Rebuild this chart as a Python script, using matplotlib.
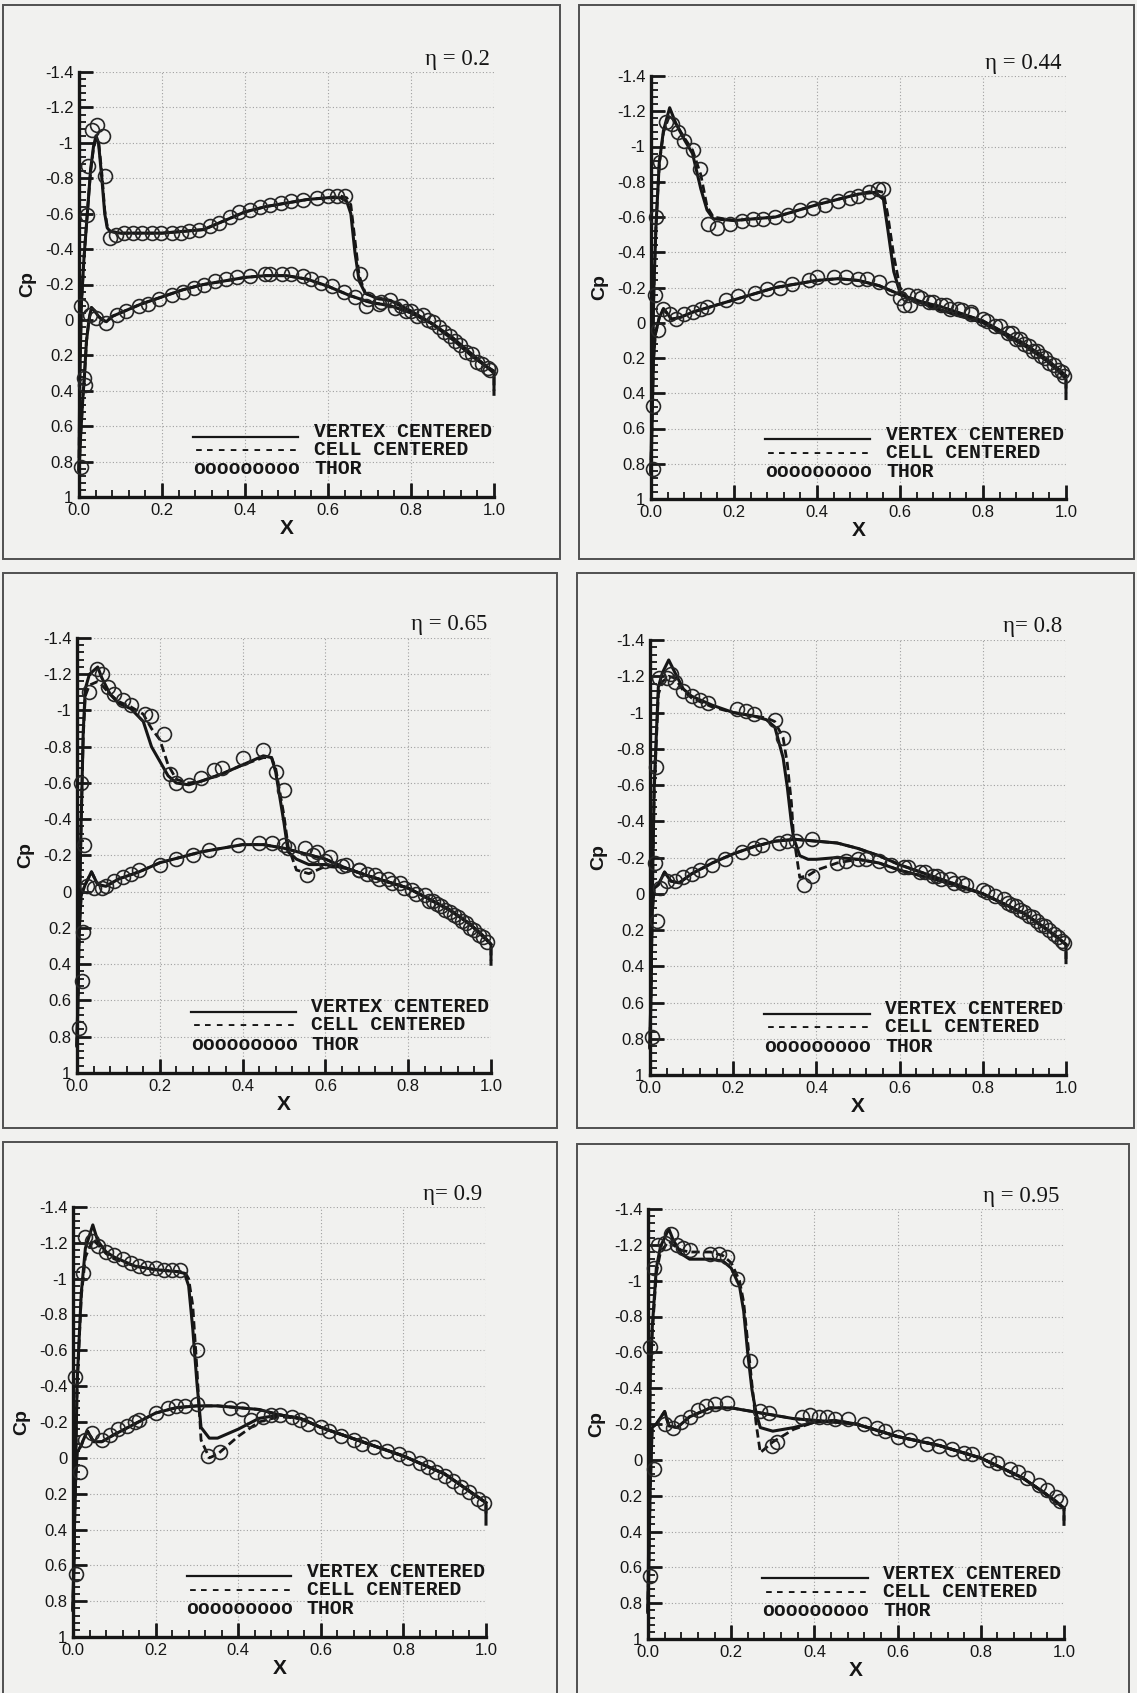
import matplotlib
matplotlib.use("Agg")
import matplotlib.pyplot as plt
from matplotlib.ticker import MultipleLocator, FixedLocator
from matplotlib.patches import Rectangle

W, H = 1137, 1693

eta_labels = ["η = 0.2", "η = 0.44", "η = 0.65", "η= 0.8", "η= 0.9", "η = 0.95"]
legend_labels = ["VERTEX CENTERED", "CELL CENTERED", "THOR"]
y_ticks = [-1.4, -1.2, -1.0, -0.8, -0.6, -0.4, -0.2, 0.0, 0.2, 0.4, 0.6, 0.8, 1.0]
y_tick_labels = ["-1.4", "-1.2", "-1", "-0.8", "-0.6", "-0.4", "-0.2", "0",
                 "0.2", "0.4", "0.6", "0.8", "1"]
x_ticks = [0.0, 0.2, 0.4, 0.6, 0.8, 1.0]
x_tick_labels = ["0.0", "0.2", "0.4", "0.6", "0.8", "1.0"]

# ---- eta = 0.2 ----
x_up_1 = [0.0, 0.002, 0.006, 0.012, 0.02, 0.028, 0.035, 0.041, 0.047, 0.055, 0.062, 0.068,
          0.075, 0.1, 0.15, 0.2, 0.25, 0.3, 0.35, 0.4, 0.45, 0.5, 0.55, 0.6, 0.63, 0.645,
          0.655, 0.665, 0.675, 0.69, 0.72, 0.75, 0.8, 0.85, 0.9, 0.95, 0.98, 1.0, 1.0]
cp_vc_up_1 = [0.85, 0.3, -0.1, -0.35, -0.6, -0.85, -0.98, -1.04, -1.0, -0.8, -0.6, -0.52,
              -0.5, -0.49, -0.49, -0.49, -0.5, -0.51, -0.56, -0.61, -0.64, -0.66, -0.68, -0.69,
              -0.69, -0.67, -0.6, -0.38, -0.22, -0.15, -0.12, -0.11, -0.05, 0.02, 0.11, 0.21,
              0.26, 0.29, 0.42]
cp_cc_up_1 = [0.85, 0.3, -0.1, -0.35, -0.6, -0.84, -0.97, -1.02, -1.01, -0.83, -0.62, -0.53,
              -0.5, -0.49, -0.49, -0.49, -0.5, -0.51, -0.56, -0.61, -0.64, -0.66, -0.68, -0.69,
              -0.7, -0.69, -0.65, -0.45, -0.25, -0.15, -0.12, -0.11, -0.05, 0.02, 0.11, 0.21,
              0.26, 0.29, 0.4]
x_lo_1 = [0.0, 0.004, 0.009, 0.013, 0.018, 0.024, 0.03, 0.038, 0.047, 0.056, 0.066, 0.08,
          0.1, 0.15, 0.2, 0.25, 0.3, 0.35, 0.4, 0.45, 0.5, 0.55, 0.6, 0.65, 0.7, 0.75, 0.8,
          0.85, 0.9, 0.95, 0.98, 1.0]
cp_lo_1 = [0.85, 0.65, 0.45, 0.32, 0.12, 0.0, -0.07, -0.05, -0.02, 0.0, 0.01, -0.02,
           -0.04, -0.09, -0.13, -0.17, -0.2, -0.22, -0.24, -0.25, -0.25, -0.23, -0.19, -0.14,
           -0.1, -0.08, -0.04, 0.02, 0.1, 0.2, 0.26, 0.3]
thor_up_x_1 = [0.006, 0.019, 0.022, 0.031, 0.044, 0.057, 0.063, 0.074, 0.088, 0.109, 0.131,
               0.153, 0.175, 0.197, 0.223, 0.245, 0.265, 0.289, 0.315, 0.337, 0.363, 0.385,
               0.412, 0.435, 0.46, 0.486, 0.512, 0.539, 0.574, 0.6, 0.622, 0.642, 0.677,
               0.692, 0.722, 0.749, 0.775, 0.801, 0.828, 0.854, 0.88, 0.906, 0.933, 0.959,
               0.985]
thor_up_cp_1 = [0.83, -0.59, -0.87, -1.07, -1.1, -1.04, -0.81, -0.46, -0.48, -0.49, -0.49,
                -0.49, -0.49, -0.49, -0.49, -0.49, -0.5, -0.51, -0.53, -0.55, -0.58, -0.61,
                -0.62, -0.64, -0.65, -0.66, -0.67, -0.68, -0.69, -0.7, -0.7, -0.7, -0.26,
                -0.08, -0.09, -0.11, -0.08, -0.05, -0.03, 0.01, 0.07, 0.12, 0.18, 0.24, 0.27]
thor_lo_x_1 = [0.006, 0.011, 0.015, 0.026, 0.041, 0.066, 0.092, 0.114, 0.144, 0.166, 0.193,
               0.223, 0.25, 0.276, 0.302, 0.328, 0.355, 0.381, 0.412, 0.447, 0.46, 0.49,
               0.512, 0.539, 0.56, 0.582, 0.609, 0.639, 0.666, 0.696, 0.727, 0.762, 0.788,
               0.814, 0.84, 0.867, 0.893, 0.919, 0.946, 0.972, 0.99]
thor_lo_cp_1 = [-0.08, 0.33, 0.37, -0.03, -0.01, 0.02, -0.03, -0.05, -0.08, -0.09, -0.12,
                -0.14, -0.16, -0.18, -0.2, -0.22, -0.23, -0.24, -0.25, -0.26, -0.26, -0.26,
                -0.26, -0.25, -0.23, -0.21, -0.19, -0.16, -0.13, -0.12, -0.1, -0.07, -0.05,
                -0.02, 0.0, 0.04, 0.09, 0.14, 0.19, 0.25, 0.28]

# ---- eta = 0.44 ----
x_up_2 = [0.0, 0.003, 0.007, 0.012, 0.02, 0.03, 0.045, 0.06, 0.08, 0.1, 0.12, 0.135, 0.15,
          0.2, 0.3, 0.4, 0.5, 0.54, 0.56, 0.57, 0.585, 0.6, 0.62, 0.7, 0.8, 0.9, 0.95, 0.98,
          1.0, 1.0]
cp_vc_up_2 = [0.85, 0.3, -0.2, -0.55, -0.91, -1.09, -1.22, -1.13, -1.04, -0.96, -0.76,
              -0.64, -0.59, -0.58, -0.6, -0.67, -0.73, -0.74, -0.7, -0.54, -0.29, -0.17,
              -0.14, -0.07, 0.0, 0.13, 0.21, 0.27, 0.32, 0.43]
cp_cc_up_2 = [0.85, 0.3, -0.2, -0.55, -0.9, -1.08, -1.18, -1.13, -1.05, -0.98, -0.84,
              -0.66, -0.6, -0.58, -0.6, -0.67, -0.73, -0.75, -0.74, -0.62, -0.38, -0.2,
              -0.14, -0.07, 0.0, 0.13, 0.21, 0.27, 0.31, 0.4]
x_lo_2 = [0.0, 0.003, 0.006, 0.01, 0.02, 0.03, 0.05, 0.07, 0.1, 0.2, 0.3, 0.4, 0.45, 0.5,
          0.55, 0.6, 0.65, 0.7, 0.8, 0.9, 0.95, 1.0]
cp_lo_2 = [0.85, 0.5, 0.21, 0.07, -0.03, -0.08, -0.02, -0.03, -0.06, -0.13, -0.2, -0.24,
           -0.25, -0.24, -0.21, -0.16, -0.12, -0.09, -0.01, 0.12, 0.2, 0.3]
thor_up_x_2 = [0.005, 0.012, 0.022, 0.035, 0.05, 0.065, 0.08, 0.1, 0.118, 0.138, 0.16, 0.19,
               0.22, 0.245, 0.27, 0.3, 0.33, 0.36, 0.39, 0.42, 0.45, 0.48, 0.5, 0.525, 0.548,
               0.56, 0.6, 0.61, 0.625, 0.64, 0.67, 0.7, 0.72, 0.75, 0.77, 0.8, 0.83, 0.86,
               0.88, 0.9, 0.92, 0.94, 0.96, 0.98, 0.995]
thor_up_cp_2 = [0.83, -0.6, -0.91, -1.14, -1.13, -1.08, -1.03, -0.98, -0.87, -0.56, -0.54,
                -0.56, -0.58, -0.59, -0.59, -0.6, -0.61, -0.64, -0.65, -0.67, -0.69, -0.71,
                -0.72, -0.74, -0.76, -0.76, -0.14, -0.1, -0.1, -0.15, -0.12, -0.1, -0.08,
                -0.07, -0.05, -0.02, 0.02, 0.06, 0.09, 0.12, 0.16, 0.19, 0.23, 0.27, 0.3]
thor_lo_x_2 = [0.006, 0.01, 0.018, 0.03, 0.045, 0.06, 0.08, 0.1, 0.12, 0.135, 0.18, 0.21,
               0.25, 0.28, 0.31, 0.34, 0.38, 0.4, 0.44, 0.47, 0.5, 0.52, 0.55, 0.58, 0.62,
               0.65, 0.68, 0.71, 0.74, 0.77, 0.81, 0.84, 0.87, 0.89, 0.91, 0.93, 0.95, 0.97,
               0.99]
thor_lo_cp_2 = [0.47, -0.16, 0.04, -0.08, -0.05, -0.02, -0.05, -0.06, -0.08, -0.09, -0.13,
                -0.15, -0.17, -0.19, -0.2, -0.22, -0.24, -0.26, -0.26, -0.26, -0.25, -0.25,
                -0.23, -0.2, -0.16, -0.14, -0.12, -0.1, -0.08, -0.06, -0.01, 0.02, 0.06, 0.09,
                0.13, 0.16, 0.2, 0.24, 0.28]

# ---- eta = 0.65 ----
x_up_3 = [0.0, 0.005, 0.01, 0.015, 0.02, 0.03, 0.05, 0.06, 0.08, 0.1, 0.13, 0.16, 0.18, 0.2,
          0.22, 0.24, 0.27, 0.3, 0.35, 0.4, 0.45, 0.47, 0.48, 0.5, 0.51, 0.53, 0.56, 0.6,
          0.65, 0.7, 0.8, 0.9, 0.95, 0.98, 1.0, 1.0]
cp_vc_up_3 = [0.85, 0.2, -0.38, -0.88, -1.12, -1.2, -1.24, -1.18, -1.09, -1.04, -1.01,
              -0.94, -0.8, -0.72, -0.64, -0.6, -0.59, -0.61, -0.65, -0.7, -0.75, -0.74,
              -0.66, -0.38, -0.22, -0.18, -0.15, -0.15, -0.13, -0.09, -0.02, 0.1, 0.18, 0.24,
              0.29, 0.4]
cp_cc_up_3 = [0.85, 0.2, -0.38, -0.85, -1.08, -1.14, -1.16, -1.14, -1.09, -1.05, -1.02,
              -0.98, -0.9, -0.84, -0.7, -0.62, -0.6, -0.61, -0.65, -0.7, -0.74, -0.74, -0.68,
              -0.42, -0.25, -0.12, -0.1, -0.14, -0.13, -0.09, -0.02, 0.1, 0.18, 0.24, 0.29,
              0.38]
x_lo_3 = [0.0, 0.005, 0.01, 0.02, 0.035, 0.05, 0.07, 0.1, 0.15, 0.2, 0.3, 0.4, 0.45, 0.5,
          0.55, 0.6, 0.65, 0.7, 0.8, 0.9, 0.95, 1.0]
cp_lo_3 = [0.85, 0.23, 0.02, -0.04, -0.11, -0.04, -0.03, -0.07, -0.11, -0.16, -0.22, -0.26,
           -0.26, -0.24, -0.21, -0.18, -0.13, -0.09, -0.02, 0.1, 0.18, 0.29]
thor_up_x_3 = [0.004, 0.01, 0.016, 0.03, 0.048, 0.06, 0.075, 0.09, 0.11, 0.13, 0.165, 0.178,
               0.21, 0.225, 0.24, 0.27, 0.3, 0.33, 0.35, 0.4, 0.45, 0.48, 0.5, 0.51, 0.556,
               0.57, 0.6, 0.64, 0.68, 0.7, 0.73, 0.76, 0.79, 0.82, 0.85, 0.87, 0.89, 0.91,
               0.93, 0.95, 0.97, 0.99]
thor_up_cp_3 = [0.75, -0.6, -0.26, -1.1, -1.23, -1.2, -1.13, -1.09, -1.06, -1.03, -0.98,
                -0.97, -0.87, -0.65, -0.6, -0.59, -0.63, -0.67, -0.68, -0.74, -0.78, -0.66,
                -0.56, -0.24, -0.09, -0.2, -0.17, -0.14, -0.12, -0.1, -0.07, -0.05, -0.02,
                0.01, 0.05, 0.07, 0.1, 0.13, 0.16, 0.2, 0.24, 0.28]
thor_lo_x_3 = [0.012, 0.015, 0.025, 0.04, 0.06, 0.07, 0.09, 0.11, 0.13, 0.15, 0.2, 0.24,
               0.28, 0.32, 0.39, 0.44, 0.47, 0.5, 0.55, 0.58, 0.61, 0.65, 0.68, 0.72, 0.75,
               0.78, 0.81, 0.84, 0.86, 0.88, 0.9, 0.92, 0.94, 0.96, 0.98]
thor_lo_cp_3 = [0.49, 0.22, -0.03, -0.02, -0.02, -0.03, -0.06, -0.08, -0.1, -0.12, -0.15,
                -0.18, -0.2, -0.23, -0.26, -0.27, -0.27, -0.26, -0.24, -0.22, -0.19, -0.15,
                -0.12, -0.09, -0.07, -0.05, -0.01, 0.02, 0.05, 0.08, 0.11, 0.14, 0.17, 0.21,
                0.25]

# ---- eta = 0.8 ----
x_up_4 = [0.0, 0.005, 0.01, 0.02, 0.03, 0.045, 0.06, 0.08, 0.1, 0.15, 0.2, 0.25, 0.28, 0.3,
          0.32, 0.33, 0.34, 0.345, 0.36, 0.38, 0.4, 0.45, 0.5, 0.55, 0.6, 0.7, 0.8, 0.9, 0.95,
          0.98, 1.0, 1.0]
cp_vc_up_4 = [0.85, 0.1, -0.59, -1.14, -1.22, -1.29, -1.22, -1.13, -1.09, -1.04, -1.0,
              -0.98, -0.96, -0.92, -0.75, -0.59, -0.39, -0.31, -0.21, -0.19, -0.19, -0.2,
              -0.19, -0.17, -0.13, -0.07, 0.0, 0.11, 0.19, 0.24, 0.28, 0.38]
cp_cc_up_4 = [0.85, 0.1, -0.55, -1.1, -1.17, -1.2, -1.19, -1.12, -1.08, -1.03, -1.0, -0.98,
              -0.97, -0.95, -0.86, -0.72, -0.5, -0.32, -0.09, -0.1, -0.13, -0.17, -0.19,
              -0.17, -0.13, -0.07, 0.0, 0.11, 0.19, 0.24, 0.28, 0.36]
x_lo_4 = [0.0, 0.005, 0.01, 0.02, 0.035, 0.05, 0.07, 0.1, 0.15, 0.2, 0.25, 0.3, 0.35, 0.4,
          0.45, 0.5, 0.55, 0.6, 0.65, 0.7, 0.8, 0.9, 0.95, 1.0]
cp_lo_4 = [0.85, 0.11, -0.03, -0.05, -0.12, -0.07, -0.06, -0.11, -0.17, -0.22, -0.26, -0.29,
           -0.3, -0.29, -0.28, -0.25, -0.21, -0.16, -0.12, -0.08, 0.0, 0.11, 0.19, 0.28]
thor_up_x_4 = [0.004, 0.011, 0.015, 0.022, 0.04, 0.05, 0.06, 0.08, 0.1, 0.12, 0.14, 0.21,
               0.23, 0.25, 0.3, 0.32, 0.37, 0.39, 0.45, 0.47, 0.5, 0.52, 0.55, 0.58, 0.61,
               0.65, 0.68, 0.7, 0.73, 0.76, 0.8, 0.83, 0.86, 0.88, 0.9, 0.92, 0.94, 0.96,
               0.98, 0.995]
thor_up_cp_4 = [0.79, -0.17, -0.7, -1.19, -1.19, -1.21, -1.17, -1.12, -1.09, -1.07, -1.05,
                -1.02, -1.01, -0.99, -0.96, -0.86, -0.05, -0.1, -0.17, -0.18, -0.19, -0.19,
                -0.18, -0.16, -0.15, -0.12, -0.1, -0.08, -0.06, -0.05, -0.02, 0.01, 0.05,
                0.07, 0.1, 0.13, 0.17, 0.2, 0.24, 0.27]
thor_lo_x_4 = [0.016, 0.025, 0.04, 0.06, 0.08, 0.1, 0.12, 0.15, 0.18, 0.22, 0.25, 0.27,
               0.31, 0.33, 0.35, 0.39, 0.62, 0.66, 0.69, 0.72, 0.75, 0.81, 0.85, 0.87, 0.89,
               0.91, 0.93, 0.95, 0.97, 0.99]
thor_lo_cp_4 = [0.15, -0.03, -0.07, -0.07, -0.09, -0.11, -0.13, -0.16, -0.19, -0.23, -0.25,
                -0.27, -0.28, -0.29, -0.29, -0.3, -0.15, -0.12, -0.1, -0.08, -0.06, -0.01,
                0.03, 0.06, 0.09, 0.12, 0.15, 0.18, 0.22, 0.26]

# ---- eta = 0.9 ----
x_up_5 = [0.0, 0.005, 0.01, 0.02, 0.03, 0.048, 0.06, 0.08, 0.1, 0.15, 0.2, 0.25, 0.27, 0.28,
          0.29, 0.3, 0.31, 0.33, 0.35, 0.4, 0.45, 0.5, 0.55, 0.6, 0.7, 0.8, 0.9, 0.95, 0.98,
          1.0, 1.0]
cp_vc_up_5 = [0.85, 0.2, -0.42, -0.92, -1.17, -1.3, -1.21, -1.15, -1.12, -1.07, -1.05,
              -1.04, -1.03, -0.96, -0.72, -0.42, -0.17, -0.11, -0.11, -0.16, -0.22, -0.24,
              -0.22, -0.17, -0.09, -0.01, 0.09, 0.17, 0.22, 0.25, 0.37]
cp_cc_up_5 = [0.85, 0.2, -0.4, -0.9, -1.12, -1.22, -1.19, -1.14, -1.11, -1.07, -1.05, -1.04,
              -1.04, -1.0, -0.85, -0.5, -0.1, 0.0, -0.02, -0.12, -0.2, -0.23, -0.22, -0.17,
              -0.09, -0.01, 0.09, 0.17, 0.22, 0.25, 0.33]
x_lo_5 = [0.0, 0.005, 0.01, 0.02, 0.025, 0.035, 0.05, 0.07, 0.1, 0.15, 0.2, 0.25, 0.3, 0.35,
          0.4, 0.45, 0.5, 0.55, 0.6, 0.7, 0.8, 0.9, 0.95, 1.0]
cp_lo_5 = [0.85, 0.19, -0.03, -0.07, -0.1, -0.15, -0.09, -0.09, -0.13, -0.19, -0.25, -0.28,
           -0.29, -0.29, -0.28, -0.27, -0.24, -0.22, -0.17, -0.09, -0.01, 0.09, 0.17, 0.25]
thor_up_x_5 = [0.005, 0.024, 0.03, 0.045, 0.06, 0.08, 0.1, 0.12, 0.14, 0.16, 0.18, 0.2,
               0.22, 0.24, 0.26, 0.3, 0.326, 0.355, 0.43, 0.46, 0.48, 0.5, 0.53, 0.55, 0.57,
               0.6, 0.62, 0.65, 0.68, 0.7, 0.73, 0.76, 0.79, 0.81, 0.84, 0.86, 0.88, 0.9,
               0.92, 0.94, 0.96, 0.98, 0.995]
thor_up_cp_5 = [-0.45, -1.03, -1.23, -1.21, -1.18, -1.15, -1.13, -1.11, -1.09, -1.07, -1.06,
                -1.06, -1.05, -1.05, -1.05, -0.6, -0.01, -0.03, -0.21, -0.23, -0.24, -0.24,
                -0.23, -0.21, -0.19, -0.17, -0.15, -0.12, -0.1, -0.08, -0.06, -0.04, -0.02,
                0.0, 0.03, 0.05, 0.08, 0.1, 0.13, 0.16, 0.19, 0.23, 0.25]
thor_lo_x_5 = [0.008, 0.018, 0.03, 0.045, 0.07, 0.09, 0.11, 0.13, 0.15, 0.16, 0.2, 0.23,
               0.25, 0.27, 0.3, 0.38, 0.41]
thor_lo_cp_5 = [0.65, 0.08, -0.1, -0.14, -0.1, -0.13, -0.16, -0.18, -0.2, -0.21, -0.25,
                -0.28, -0.29, -0.29, -0.3, -0.28, -0.27]

# ---- eta = 0.95 ----
x_up_6 = [0.0, 0.005, 0.01, 0.02, 0.03, 0.05, 0.06, 0.08, 0.1, 0.12, 0.15, 0.18, 0.2, 0.22,
          0.23, 0.24, 0.25, 0.26, 0.27, 0.3, 0.35, 0.4, 0.45, 0.5, 0.6, 0.7, 0.8, 0.9, 0.95,
          0.98, 1.0, 1.0]
cp_vc_up_6 = [0.85, -0.43, -0.73, -1.07, -1.19, -1.29, -1.23, -1.15, -1.12, -1.12, -1.12,
              -1.11, -1.07, -0.97, -0.83, -0.59, -0.39, -0.26, -0.18, -0.16, -0.18, -0.21,
              -0.22, -0.2, -0.13, -0.08, -0.01, 0.1, 0.18, 0.23, 0.27, 0.36]
cp_cc_up_6 = [0.85, -0.4, -0.7, -1.04, -1.16, -1.22, -1.2, -1.17, -1.16, -1.16, -1.16,
              -1.14, -1.1, -1.0, -0.88, -0.65, -0.42, -0.2, -0.04, -0.1, -0.17, -0.21, -0.22,
              -0.2, -0.13, -0.08, -0.01, 0.1, 0.18, 0.23, 0.27, 0.34]
x_lo_6 = [0.0, 0.005, 0.01, 0.02, 0.04, 0.05, 0.07, 0.1, 0.15, 0.2, 0.25, 0.3, 0.35, 0.4,
          0.45, 0.5, 0.6, 0.7, 0.8, 0.9, 0.95, 1.0]
cp_lo_6 = [0.85, 0.18, -0.18, -0.2, -0.27, -0.19, -0.18, -0.24, -0.29, -0.29, -0.27, -0.25,
           -0.23, -0.22, -0.21, -0.2, -0.13, -0.08, -0.01, 0.1, 0.18, 0.27]
thor_up_x_6 = [0.005, 0.015, 0.025, 0.04, 0.055, 0.07, 0.085, 0.1, 0.15, 0.17, 0.19, 0.215,
               0.245, 0.297, 0.31]
thor_up_cp_6 = [-0.63, -1.07, -1.2, -1.21, -1.26, -1.2, -1.18, -1.17, -1.15, -1.15, -1.13,
                -1.01, -0.55, -0.08, -0.1]
thor_lo_x_6 = [0.005, 0.015, 0.04, 0.06, 0.08, 0.1, 0.12, 0.14, 0.16, 0.19, 0.27, 0.29,
               0.37, 0.39, 0.41, 0.43, 0.45, 0.48, 0.52, 0.55, 0.57, 0.6, 0.63, 0.67, 0.7,
               0.73, 0.76, 0.78, 0.82, 0.84, 0.87, 0.89, 0.91, 0.94, 0.96, 0.98, 0.99]
thor_lo_cp_6 = [0.65, 0.05, -0.2, -0.18, -0.21, -0.24, -0.28, -0.3, -0.31, -0.32, -0.27,
                -0.26, -0.24, -0.25, -0.24, -0.24, -0.23, -0.23, -0.2, -0.18, -0.16, -0.13,
                -0.11, -0.09, -0.08, -0.06, -0.04, -0.03, 0.0, 0.02, 0.05, 0.07, 0.1, 0.14,
                0.17, 0.21, 0.23]

panels = [
    (x_up_1, cp_vc_up_1, cp_cc_up_1, x_lo_1, cp_lo_1, thor_up_x_1, thor_up_cp_1, thor_lo_x_1, thor_lo_cp_1),
    (x_up_2, cp_vc_up_2, cp_cc_up_2, x_lo_2, cp_lo_2, thor_up_x_2, thor_up_cp_2, thor_lo_x_2, thor_lo_cp_2),
    (x_up_3, cp_vc_up_3, cp_cc_up_3, x_lo_3, cp_lo_3, thor_up_x_3, thor_up_cp_3, thor_lo_x_3, thor_lo_cp_3),
    (x_up_4, cp_vc_up_4, cp_cc_up_4, x_lo_4, cp_lo_4, thor_up_x_4, thor_up_cp_4, thor_lo_x_4, thor_lo_cp_4),
    (x_up_5, cp_vc_up_5, cp_cc_up_5, x_lo_5, cp_lo_5, thor_up_x_5, thor_up_cp_5, thor_lo_x_5, thor_lo_cp_5),
    (x_up_6, cp_vc_up_6, cp_cc_up_6, x_lo_6, cp_lo_6, thor_up_x_6, thor_up_cp_6, thor_lo_x_6, thor_lo_cp_6),
]

# layout in pixels: (left, top, right, bottom)
axes_px = [(79, 72, 494, 497), (651, 76, 1066, 499),
           (77, 638, 491, 1073), (650, 640, 1066, 1075),
           (73, 1207, 486, 1637), (648, 1209, 1064, 1639)]
box_px = [(3, 5, 560, 559), (579, 5, 1134, 559),
          (3, 573, 557, 1128), (577, 573, 1134, 1128),
          (3, 1142, 557, 1710), (577, 1144, 1129, 1710)]

ink = "#161616"
paper = "#f1f1ef"

fig = plt.figure(figsize=(W / 100, H / 100), dpi=100, facecolor=paper)

for (l, t, r, b) in box_px:
    fig.patches.append(Rectangle((l / W, 1 - b / H), (r - l) / W, (b - t) / H,
                                 transform=fig.transFigure, fill=False,
                                 edgecolor="#505050", linewidth=1.4))

for i, data in enumerate(panels):
    xu, vcu, ccu, xl, cl, tux, tuc, tlx, tlc = data
    l, t, r, b = axes_px[i]
    ax = fig.add_axes([l / W, 1 - b / H, (r - l) / W, (b - t) / H])
    ax.set_facecolor("none")

    ax.plot(xu, ccu, color=ink, lw=2.0, ls=(0, (3, 1.5)), clip_on=False, zorder=3)
    ax.plot(xl, cl, color=ink, lw=2.0, ls=(0, (3, 1.5)), clip_on=False, zorder=3)
    ax.plot(xu, vcu, color=ink, lw=2.2, clip_on=False, zorder=4)
    ax.plot(xl, cl, color=ink, lw=2.2, clip_on=False, zorder=4)
    ax.plot(tux, tuc, ls="none", marker="o", ms=10, mfc="none", mec="#262626",
            mew=1.2, clip_on=False, zorder=5)
    ax.plot(tlx, tlc, ls="none", marker="o", ms=10, mfc="none", mec="#262626",
            mew=1.2, clip_on=False, zorder=5)

    ax.set_xlim(0, 1)
    ax.set_ylim(1.0, -1.4)
    ax.xaxis.set_major_locator(FixedLocator(x_ticks))
    ax.yaxis.set_major_locator(FixedLocator(y_ticks))
    ax.set_xticklabels(x_tick_labels)
    ax.set_yticklabels(y_tick_labels)
    ax.xaxis.set_minor_locator(MultipleLocator(0.04))
    ax.yaxis.set_minor_locator(MultipleLocator(0.04))
    ax.tick_params(which="major", direction="in", length=10, width=2.0, color=ink,
                   labelsize=12, pad=4, labelcolor=ink, top=False, right=False)
    ax.tick_params(which="minor", direction="in", length=5, width=1.3, color=ink,
                   top=False, right=False)
    for lab in ax.get_xticklabels() + ax.get_yticklabels():
        lab.set_fontfamily("Liberation Sans")
    for s in ("top", "right"):
        ax.spines[s].set_visible(False)
    for s in ("left", "bottom"):
        ax.spines[s].set_linewidth(2.4)
        ax.spines[s].set_color(ink)
    ax.grid(True, which="major", color="#a0a0a0", lw=0.8, ls=(0, (1, 2)))

    ax.set_xlabel("X", fontfamily="Liberation Sans", fontweight="bold", fontsize=15,
                  color=ink, labelpad=1)
    ax.set_ylabel("Cp", fontfamily="Liberation Sans", fontweight="bold", fontsize=14,
                  color=ink, labelpad=6)

    ax.text(0.99, 1.03, eta_labels[i], transform=ax.transAxes, ha="right", va="center",
            fontfamily="Liberation Serif", fontsize=16.5, color=ink)

    # legend drawn as in the original (line sample + typewriter text)
    ax.plot([0.275, 0.528], [0.141, 0.141], transform=ax.transAxes, color=ink, lw=1.6)
    mono = dict(transform=ax.transAxes, fontfamily="Liberation Mono", fontweight="bold",
                fontsize=14.2, color=ink, va="center", ha="left")
    ax.text(0.275, 0.111, "---------", **mono)
    ax.text(0.275, 0.066, "ooooooooo", **mono)
    ax.text(0.566, 0.153, legend_labels[0], **mono)
    ax.text(0.566, 0.111, legend_labels[1], **mono)
    ax.text(0.566, 0.066, legend_labels[2], **mono)

fig.savefig("out.png", dpi=100, facecolor=paper)
